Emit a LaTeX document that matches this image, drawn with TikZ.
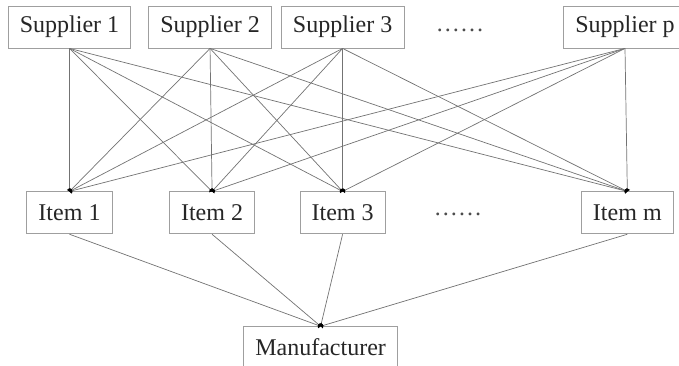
\documentclass[tikz,border=0pt]{standalone}
\usepackage{fontspec}
\setmainfont{Liberation Serif}
\usetikzlibrary{positioning, arrows.meta}

\begin{document}
\begin{tikzpicture}[
                x=0.03cm, y=-0.03cm,
                node distance=4.29cm and 0.51cm,
                every node/.style={font=\fontsize{20.5}{25}\selectfont, text=black!85},
                box/.style={rectangle, draw=gray!75, line width=0.7pt, minimum height=1.26cm, inner xsep=0.35cm},
                dots/.style={text=black!70},
                line/.style={draw=black!55, line width=0.6pt, -{Circle[black, length=2.5pt, width=4pt]}},
                ]
        
                \useasboundingbox (0,0) rectangle (679,365);
                \clip (0,0) rectangle (679,365);
        
                % Suppliers in the top row
                \node [box] (s1) at (69.5,27) {Supplier 1};
                \node [box, right=0.51cm of s1] (s2) {Supplier 2};
                \node [box, right=0.27cm of s2] (s3) {Supplier 3};
                \node [box] (sp) at (625,27) {Supplier p};
                \node [dots] (sdots) at (460,30) {……};
        
                % Items below the suppliers
                \node [box, below=of s1] (i1) {Item 1};
                \node [box, below=of s2, xshift=0.06cm] (i2) {Item 2};
                \node [box, below=of s3] (i3) {Item 3};
                \node [box, below=of sp, xshift=0.07cm] (im) {Item m};
                \node [dots] (idots) at (458,214) {……};
        
                % Manufacturer at the bottom
                \node [box, below=2.76cm of i3, xshift=-0.66cm] (mfr) {Manufacturer};
        
                % Draw lines from every supplier to every item
                \draw[line] (s1.south) -- (i1.north);
                \draw[line] (s1.south) -- (i2.north);
                \draw[line] (s1.south) -- (i3.north);
                \draw[line] (s1.south) -- (im.north);
        
                \draw[line] (s2.south) -- (i1.north);
                \draw[line] (s2.south) -- (i2.north);
                \draw[line] (s2.south) -- (i3.north);
                \draw[line] (s2.south) -- (im.north);
        
                \draw[line] (s3.south) -- (i1.north);
                \draw[line] (s3.south) -- (i2.north);
                \draw[line] (s3.south) -- (i3.north);
                \draw[line] (s3.south) -- (im.north);
        
                \draw[line] (sp.south) -- (i1.north);
                \draw[line] (sp.south) -- (i2.north);
                \draw[line] (sp.south) -- (i3.north);
                \draw[line] (sp.south) -- (im.north);
        
                % Draw lines from items to the manufacturer
                \draw[line] (i1.south) -- (mfr.north);
                \draw[line] (i2.south) -- (mfr.north);
                \draw[line] (i3.south) -- (mfr.north);
                \draw[line] (im.south) -- (mfr.north);
        
            \end{tikzpicture}
\end{document}
